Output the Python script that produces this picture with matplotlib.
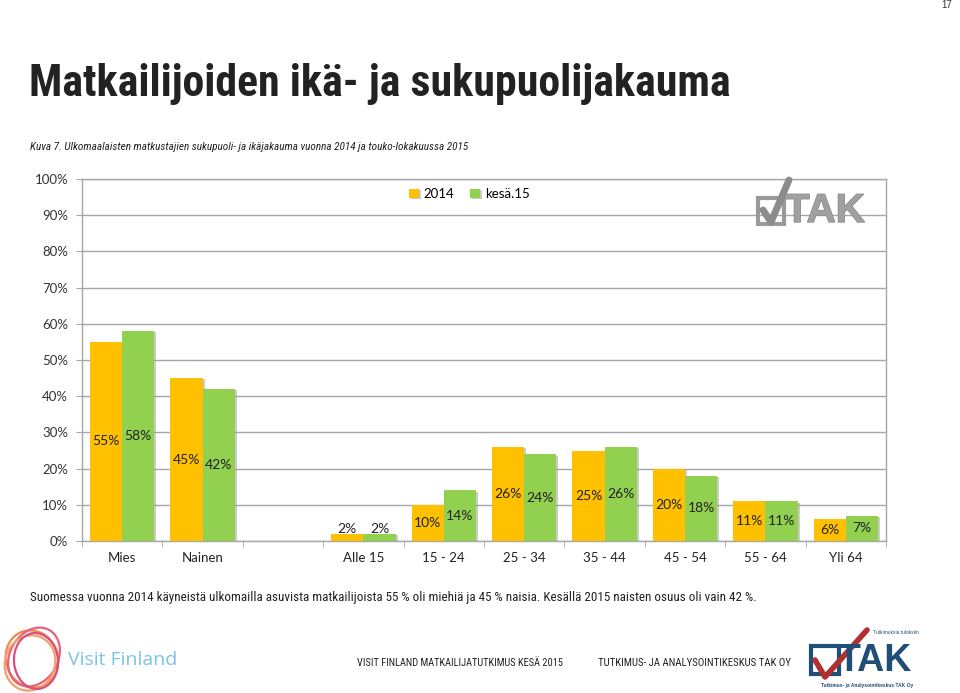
import numpy as np
import matplotlib
matplotlib.use("Agg")
import matplotlib.pyplot as plt
from matplotlib import font_manager
from matplotlib.patches import Ellipse, Rectangle
import matplotlib.patheffects as pe

# data
categories = ["Mies", "Nainen", "", "Alle 15", "15 - 24", "25 - 34", "35 - 44", "45 - 54", "55 - 64", "Yli 64"]
v2014 = [55, 45, np.nan, 2, 10, 26, 25, 20, 11, 6]
v2015 = [58, 42, np.nan, 2, 14, 24, 26, 18, 11, 7]
series_names = ["2014", "kesä.15"]
yticks = [0, 10, 20, 30, 40, 50, 60, 70, 80, 90, 100]

ORANGE = "#FFC000"
GREEN = "#92D050"
GRID = "#A6A6A6"
CHART = "Lato"

# pick a narrow sans for the slide texts (Arial Narrow look), else plain Liberation Sans
fonts = font_manager.fontManager.ttflist
NARROW = "Liberation Sans"
for cand in ["Liberation Sans Narrow", "Roboto Condensed", "DejaVu Sans Condensed", "Open Sans Condensed"]:
    if any(f.name == cand for f in fonts):
        NARROW = cand
        break
else:
    cond = [f for f in fonts if f.name == "DejaVu Sans" and "ondensed" in str(f.stretch)]
    if cond:
        NARROW = "DejaVu Sans"
        plt.rcParams["font.stretch"] = "condensed"

W, H = 960, 693
fig = plt.figure(figsize=(W / 100, H / 100), dpi=100)

def fx(px):
    return px / W

def fy(py):
    return 1 - py / H

# slide texts: (text, x, y, width in px, style)
fig.text(fx(952), fy(5), "17", ha="right", va="center", fontsize=7, family="Liberation Sans", color="#333")
t_title = fig.text(fx(29), fy(84), "Matkailijoiden ikä- ja sukupuolijakauma", ha="left", va="center",
                   fontsize=29, fontweight="bold", family=NARROW, color="#222")
t_sub = fig.text(fx(30), fy(147), "Kuva 7. Ulkomaalaisten matkustajien sukupuoli- ja ikäjakauma vuonna 2014 ja touko-lokakuussa 2015",
                 ha="left", va="center", fontsize=8.3, style="italic", family=NARROW, color="#222")
t_note = fig.text(fx(30), fy(598), "Suomessa vuonna 2014 käyneistä ulkomailla asuvista matkailijoista 55 % oli miehiä ja 45 % naisia. "
                  "Kesällä 2015 naisten osuus oli vain 42 %.", ha="left", va="center", fontsize=10.6,
                  family=NARROW, color="#222")
t_f1 = fig.text(fx(357), fy(663), "VISIT FINLAND MATKAILIJATUTKIMUS KESÄ 2015", ha="left", va="center",
                fontsize=7.2, family=NARROW, color="#222")
t_f2 = fig.text(fx(598), fy(663), "TUTKIMUS- JA ANALYSOINTIKESKUS TAK OY", ha="left", va="center",
                fontsize=7.2, family=NARROW, color="#222")
fit_widths = [(t_title, 700), (t_sub, 440), (t_note, 732), (t_f1, 206), (t_f2, 192)]

# chart
ax = fig.add_axes([fx(82), fy(541), fx(886) - fx(82), fy(179) - fy(541)])
x = np.arange(len(categories))
w = 0.4
shadow = [pe.SimplePatchShadow(offset=(1.5, -1), shadow_rgbFace="#999999", alpha=0.5), pe.Normal()]
b1 = ax.bar(x - w / 2, v2014, w, color=ORANGE, label=series_names[0], zorder=3)
b2 = ax.bar(x + w / 2, v2015, w, color=GREEN, label=series_names[1], zorder=3)
for bars in (b1, b2):
    for p in bars:
        p.set_path_effects(shadow)

for xs, vals in ((x - w / 2, v2014), (x + w / 2, v2015)):
    for xi, v in zip(xs, vals):
        if np.isnan(v):
            continue
        yy = v / 2 if v >= 5 else v + 1.4
        ax.text(xi, yy, f"{v:.0f}%", ha="center", va="center", fontsize=10, family=CHART, color="#222", zorder=4)

ax.set_xlim(-0.5, len(categories) - 0.5)
ax.set_ylim(0, 100)
ax.set_yticks(yticks)
ax.set_yticklabels([f"{t}%" for t in yticks], fontsize=9.5, family=CHART, color="#333")
ax.yaxis.grid(True, color=GRID, linewidth=1, zorder=0)
ax.set_xticks(x)
ax.set_xticklabels(categories, fontsize=9.5, family=CHART, color="#222")
ax.set_xticks(np.arange(len(categories) + 1) - 0.5, minor=True)
ax.tick_params(axis="x", which="major", length=0, pad=8)
ax.tick_params(axis="x", which="minor", length=4, color=GRID)
ax.tick_params(axis="y", length=4, color=GRID, pad=6)
for s in ax.spines.values():
    s.set_color(GRID)
    s.set_linewidth(1)

fig.legend(handles=[b1, b2], labels=series_names, loc="center left", bbox_to_anchor=(fx(404), fy(194)),
           ncol=2, frameon=False, prop={"family": CHART, "size": 9.5}, handlelength=0.7, handleheight=0.7,
           handletextpad=0.4, columnspacing=1.2, borderaxespad=0)

# watermark logo in chart
wm = fig.add_axes([fx(755), fy(232), fx(875) - fx(755), fy(175) - fy(232)])
wm.set_xlim(0, 120)
wm.set_ylim(0, 57)
wm.axis("off")
wm.add_patch(Rectangle((3, 8), 26, 26, fill=False, ec="#9A9A9A", lw=3))
wm.plot([8, 16, 34], [22, 10, 52], color="#8C8C8C", lw=5, solid_capstyle="round")
wm.text(30, 21, "TAK", fontsize=29, fontweight="bold", family="Liberation Sans", color="#A0A0A0",
        ha="left", va="center", path_effects=[pe.withStroke(linewidth=1, foreground="#8a8a8a")])

# Visit Finland logo
vf = fig.add_axes([fx(0), fy(693), fx(70), fy(620) - fy(693)])
vf.set_xlim(0, 70)
vf.set_ylim(0, 73)
vf.axis("off")
for (cx, cy, ew, eh, ang, col) in [(32, 34, 52, 58, 20, "#F08A4B"), (34, 36, 48, 62, -30, "#E8607A"),
                                    (30, 30, 56, 50, 70, "#F4A06A"), (36, 32, 44, 56, 5, "#D9507F")]:
    vf.add_patch(Ellipse((cx, cy), ew, eh, angle=ang, fill=False, ec=col, lw=1.6))
fig.text(fx(68), fy(660), "Visit Finland", ha="left", va="center", fontsize=14, family="Open Sans",
         color="#7CC3E8")

# TAK logo footer
tk = fig.add_axes([fx(805), fy(690), fx(930) - fx(805), fy(625) - fy(690)])
tk.set_xlim(0, 125)
tk.set_ylim(0, 65)
tk.axis("off")
tk.add_patch(Rectangle((6, 16), 28, 28, fill=False, ec="#1F4E79", lw=3))
tk.text(33, 29, "TAK", fontsize=27, fontweight="bold", family="Liberation Sans", color="#1F4E79",
        ha="left", va="center")
tk.plot([10, 20, 62], [30, 13, 60], color="#B03030", lw=4, solid_capstyle="round")
tk.text(68, 58, "Tutkimuksia tuloksiin", fontsize=3.5, family="Liberation Sans", color="#1F4E79",
        ha="left", va="center")
tk.text(62, 4, "Tutkimus- ja Analysointikeskus TAK Oy", fontsize=3.5, fontweight="bold", family="Liberation Sans",
        color="#1F4E79", ha="center", va="center")

# shrink the slide texts to the widths they take in the reference
fig.canvas.draw()
renderer = fig.canvas.get_renderer()
for t, target in fit_widths:
    bw = t.get_window_extent(renderer).width
    t.set_fontsize(t.get_fontsize() * target / bw)

fig.savefig("out.png", dpi=100)
